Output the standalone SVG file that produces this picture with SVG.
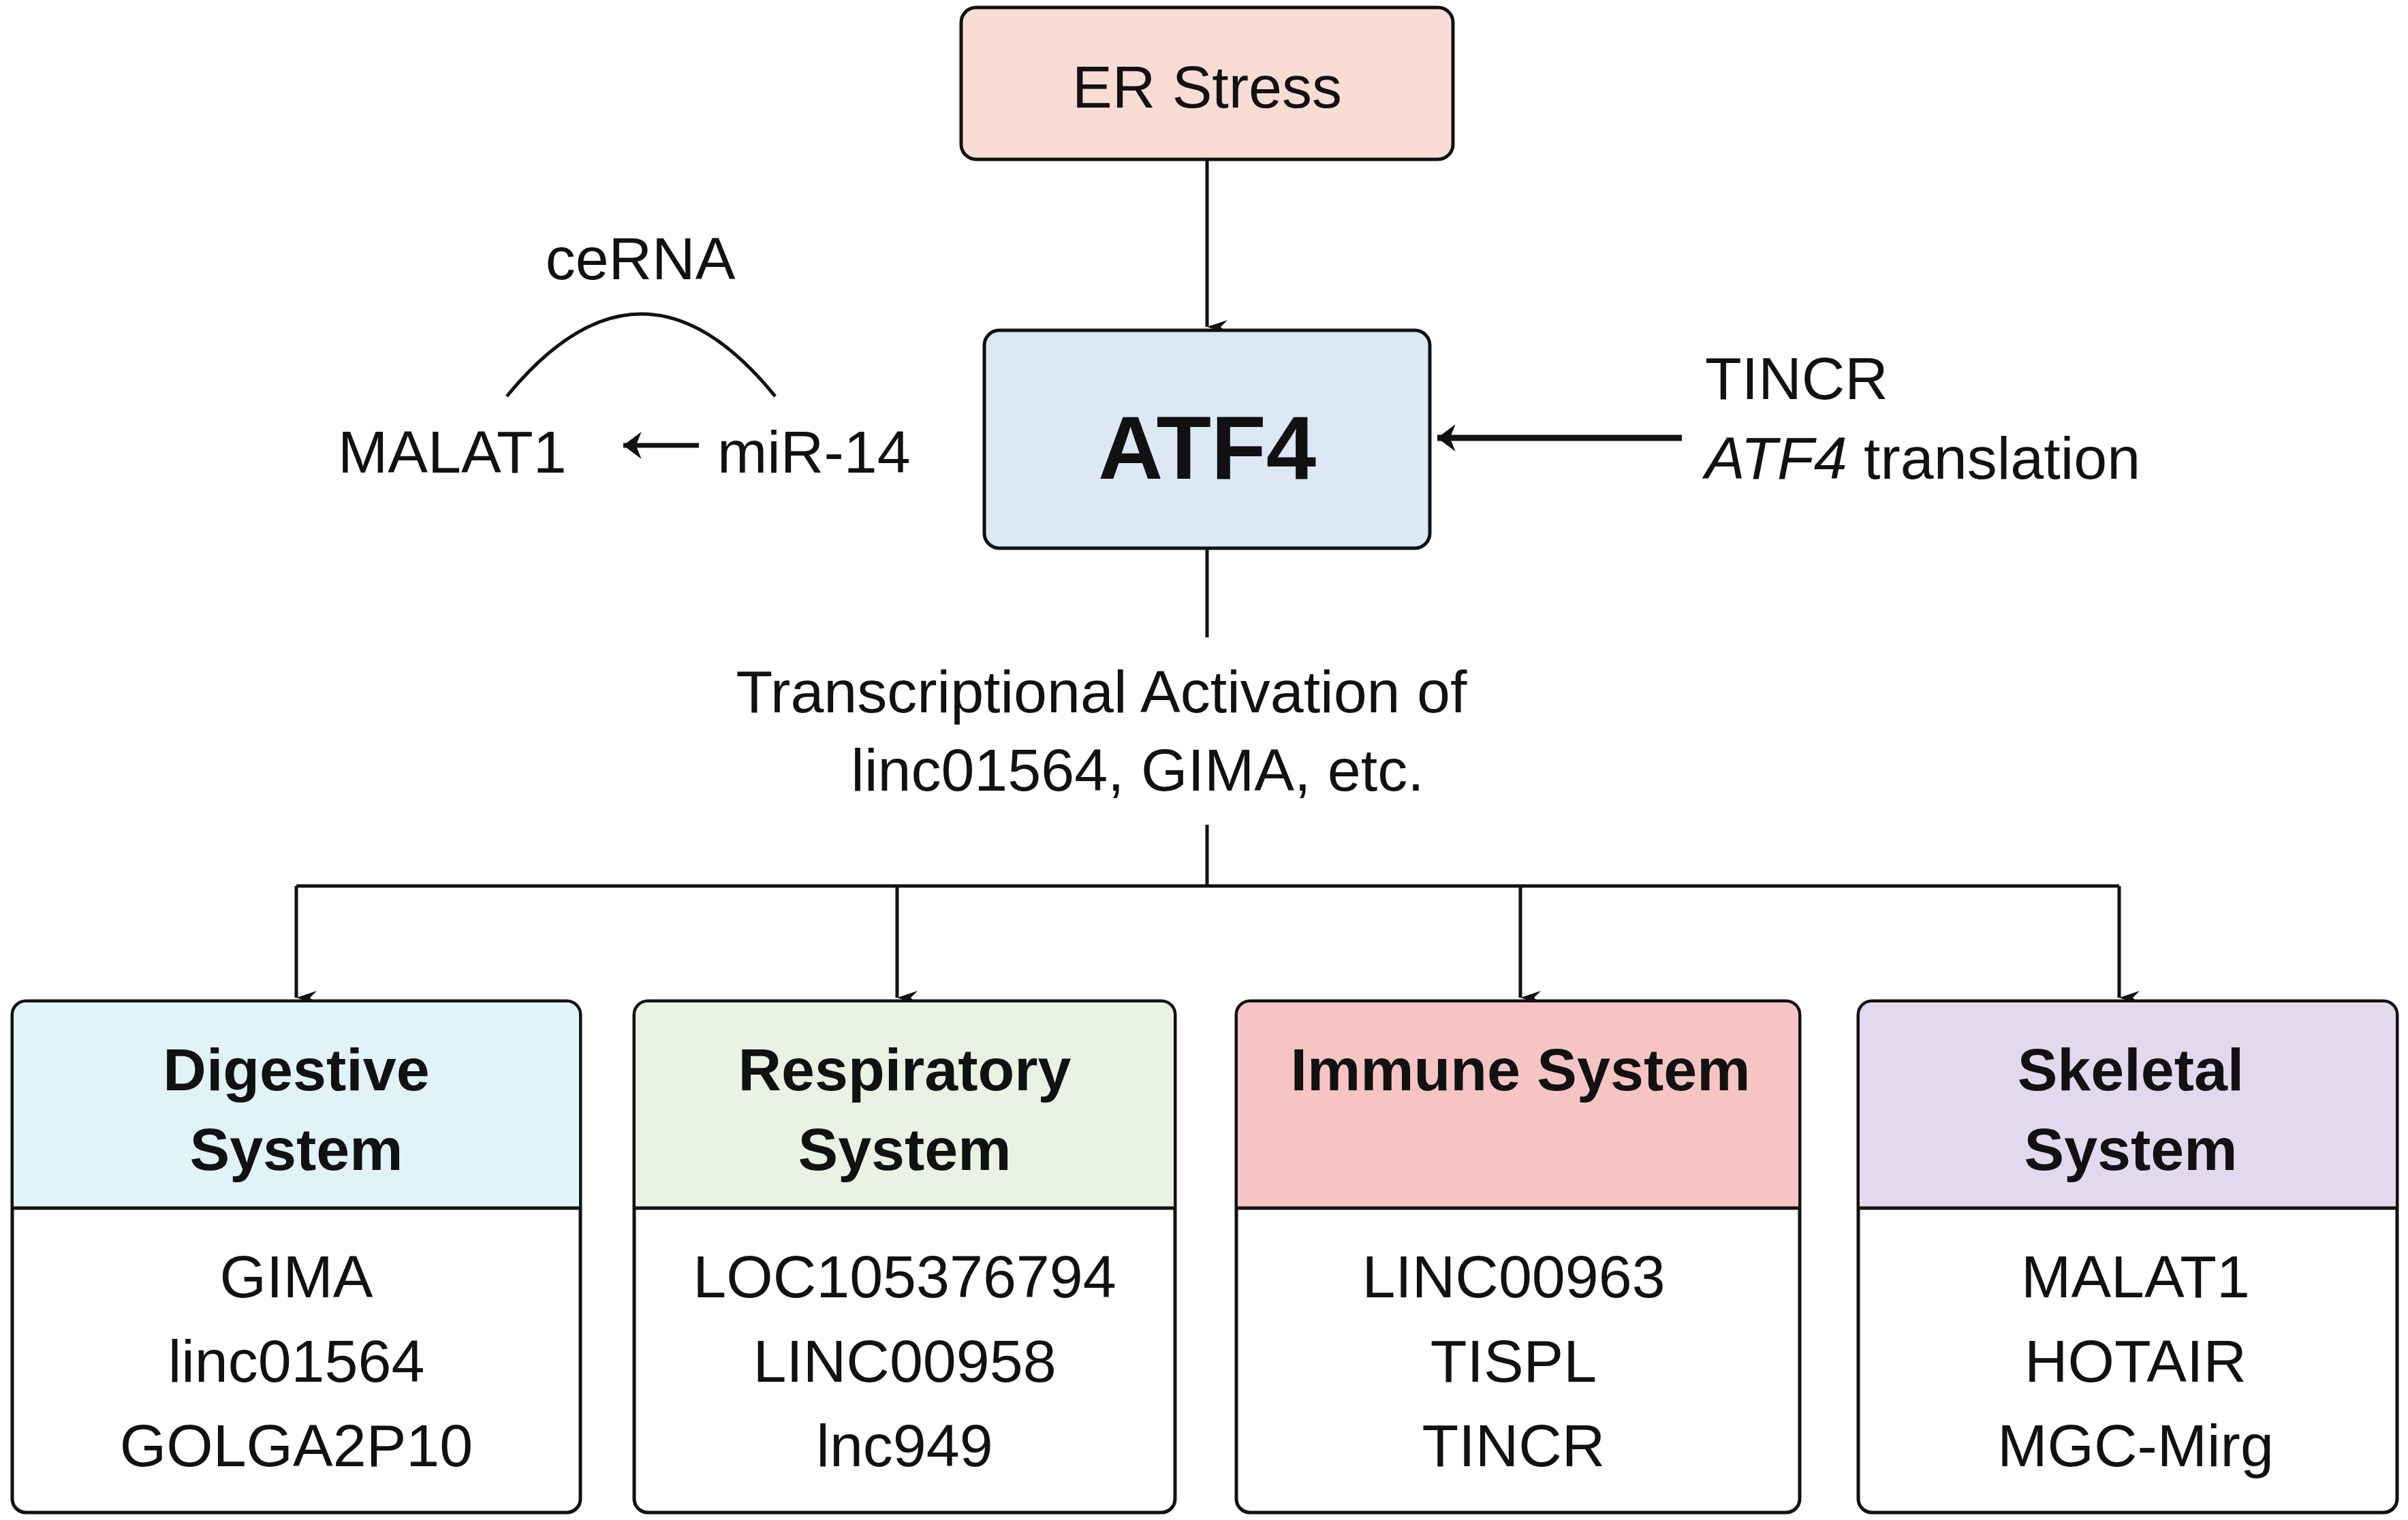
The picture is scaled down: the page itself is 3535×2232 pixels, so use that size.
<svg xmlns="http://www.w3.org/2000/svg" width="3535" height="2232" viewBox="0 0 3535 2232">
<defs>
<style>
text{font-family:"Liberation Sans",Arial,sans-serif;fill:#111;}
.t{font-size:88px;}
.h{font-size:88px;font-weight:bold;text-anchor:middle;}
.c{text-anchor:middle;}
.box{stroke:#111;stroke-width:5;}
.ln{stroke:#111;stroke-width:5;fill:none;}
</style>
<marker id="ah" viewBox="0 0 20 30" refX="10" refY="30" markerWidth="20" markerHeight="30" markerUnits="userSpaceOnUse" orient="auto-start-reverse">
<path d="M0,0 L10,30 L20,0 L10,10 Z" fill="#111"/>
</marker>
<marker id="ah2" viewBox="0 0 20 30" refX="20" refY="15" markerWidth="30" markerHeight="40" markerUnits="userSpaceOnUse" orient="auto">
<path d="M0,0 L20,15 L0,30 L6,15 Z" fill="#111"/>
</marker>
</defs>
<g id="connectors">
<line class="ln" x1="1772" y1="234" x2="1772" y2="480" marker-end="url(#ah)"/>
<line x1="2469" y1="643" x2="2110" y2="643" stroke="#111" stroke-width="9" marker-end="url(#ah2)"/>
<line x1="1026" y1="654" x2="915" y2="654" stroke="#111" stroke-width="7" marker-end="url(#ah2)"/>
<path class="ln" d="M744,582 Q942,340 1138,582"/>
<line class="ln" x1="1772" y1="805" x2="1772" y2="936"/>
<line class="ln" x1="1772" y1="1211" x2="1772" y2="1301"/>
<line class="ln" x1="435" y1="1301" x2="3111" y2="1301" stroke-width="7"/>
<line class="ln" x1="435" y1="1301" x2="435" y2="1465" marker-end="url(#ah)"/>
<line class="ln" x1="1317" y1="1301" x2="1317" y2="1465" marker-end="url(#ah)"/>
<line class="ln" x1="2232" y1="1301" x2="2232" y2="1465" marker-end="url(#ah)"/>
<line class="ln" x1="3111" y1="1301" x2="3111" y2="1465" marker-end="url(#ah)"/>
</g>
<g id="er">
<rect class="box" x="1411" y="11" width="722" height="223" rx="22" fill="#f9dcd3"/>
<text class="t c" x="1772" y="158" font-size="96">ER Stress</text>
</g>
<g id="atf4">
<rect class="box" x="1445" y="485" width="654" height="320" rx="22" fill="#dde8f5"/>
<text class="c" x="1772" y="703" font-size="132" font-weight="bold">ATF4</text>
</g>
<g id="tincr">
<text class="t" x="2503" y="586">TINCR</text>
<text class="t" x="2503" y="703"><tspan font-style="italic">ATF4</tspan> translation</text>
</g>
<g id="malat">
<text class="t" x="496" y="694">MALAT1</text>
<text class="t" x="1053" y="694">miR-14</text>
<text class="t c" x="940" y="410">ceRNA</text>
</g>
<g id="trans">
<text class="t c" x="1617" y="1046">Transcriptional Activation of</text>
<text class="t c" x="1670" y="1161">linc01564, GIMA, etc.</text>
</g>
<g id="digestive">
<rect class="box" x="18" y="1470" width="834" height="751" rx="20" fill="#fff"/>
<path d="M20,1774 V1490 a18,18 0 0 1 18,-18 H832 a18,18 0 0 1 18,18 V1774 Z" fill="#dff3f9"/>
<line class="ln" x1="18" y1="1774" x2="852" y2="1774"/>
<text class="h" x="435" y="1601">Digestive</text><text class="h" x="435" y="1718">System</text>
<text class="t c" x="435" y="1905">GIMA</text><text class="t c" x="435" y="2029">linc01564</text><text class="t c" x="435" y="2153">GOLGA2P10</text>
</g>
<g id="respiratory">
<rect class="box" x="931" y="1470" width="794" height="751" rx="20" fill="#fff"/>
<path d="M933,1774 V1490 a18,18 0 0 1 18,-18 H1705 a18,18 0 0 1 18,18 V1774 Z" fill="#eaf3e3"/>
<line class="ln" x1="931" y1="1774" x2="1725" y2="1774"/>
<text class="h" x="1328" y="1601">Respiratory</text><text class="h" x="1328" y="1718">System</text>
<text class="t c" x="1328" y="1905">LOC105376794</text><text class="t c" x="1328" y="2029">LINC00958</text><text class="t c" x="1328" y="2153">lnc949</text>
</g>
<g id="immune">
<rect class="box" x="1815" y="1470" width="827" height="751" rx="20" fill="#fff"/>
<path d="M1817,1774 V1490 a18,18 0 0 1 18,-18 H2622 a18,18 0 0 1 18,18 V1774 Z" fill="#f7c4c4"/>
<line class="ln" x1="1815" y1="1774" x2="2642" y2="1774"/>
<text class="h" x="2232" y="1601">Immune System</text>
<text class="t c" x="2222" y="1905">LINC00963</text><text class="t c" x="2222" y="2029">TISPL</text><text class="t c" x="2222" y="2153">TINCR</text>
</g>
<g id="skeletal">
<rect class="box" x="2728" y="1470" width="791" height="751" rx="20" fill="#fff"/>
<path d="M2730,1774 V1490 a18,18 0 0 1 18,-18 H3499 a18,18 0 0 1 18,18 V1774 Z" fill="#e3d9ef"/>
<line class="ln" x1="2728" y1="1774" x2="3519" y2="1774"/>
<text class="h" x="3128" y="1601">Skeletal</text><text class="h" x="3128" y="1718">System</text>
<text class="t c" x="3135" y="1905">MALAT1</text><text class="t c" x="3135" y="2029">HOTAIR</text><text class="t c" x="3135" y="2153">MGC-Mirg</text>
</g>
</svg>
